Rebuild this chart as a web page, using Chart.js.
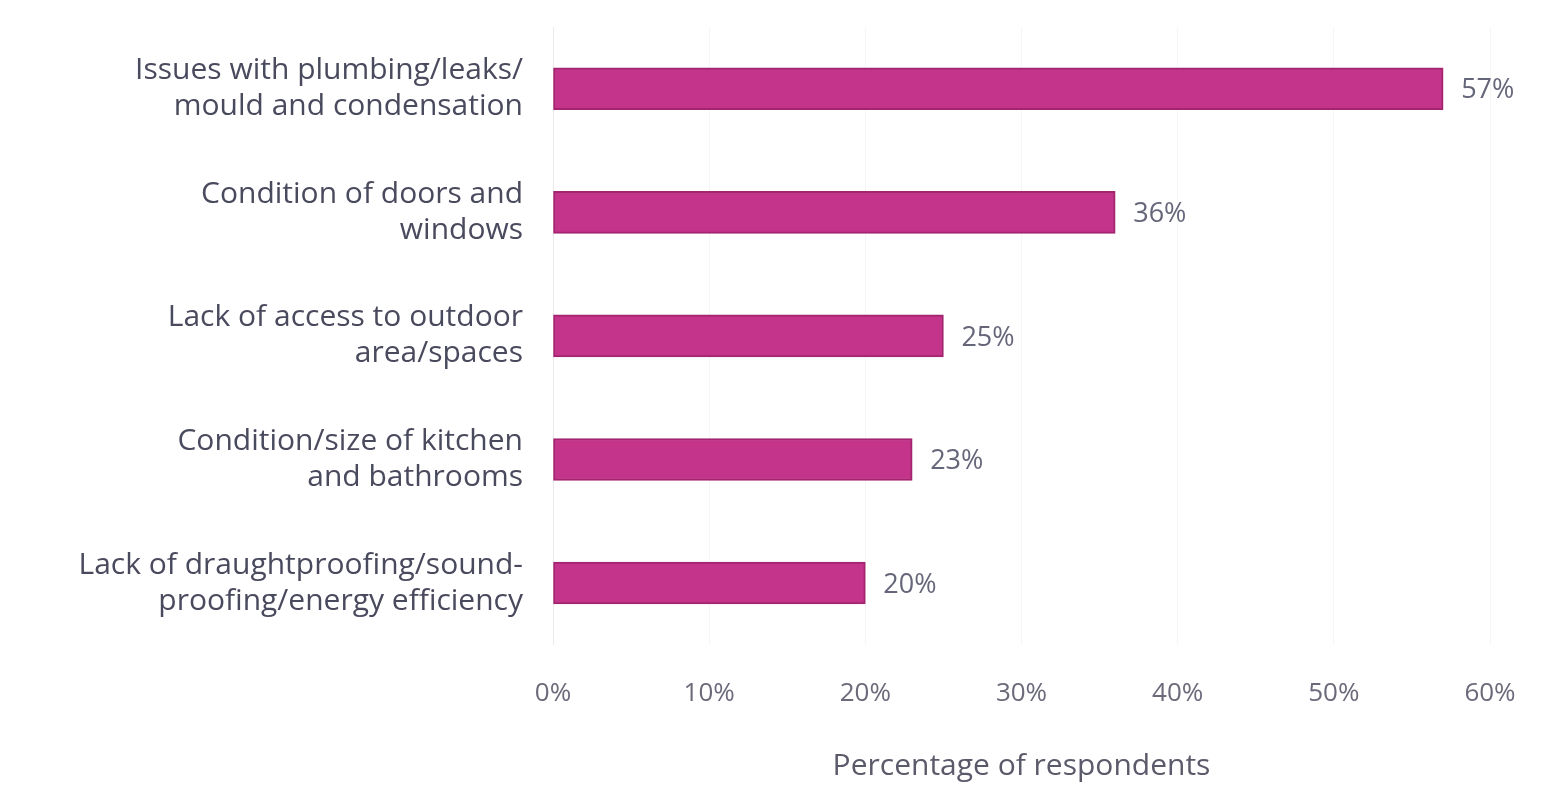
<!DOCTYPE html>
<html>
<head>
<meta charset="utf-8">
<script src="https://cdn.jsdelivr.net/npm/chart.js@4"></script>
<style>
  html, body { margin: 0; padding: 0; background: #fff; }
  #wrap { width: 1559px; height: 788px; }
</style>
</head>
<body>
<div id="wrap"><canvas id="issuesChart"></canvas></div>
<script>
const categories = [
    ['Issues with plumbing/leaks/', 'mould and condensation'],
    ['Condition of doors and', 'windows'],
    ['Lack of access to outdoor', 'area/spaces'],
    ['Condition/size of kitchen', 'and bathrooms'],
    ['Lack of draughtproofing/sound-', 'proofing/energy efficiency']
];
const percentages = [57, 36, 25, 23, 20];
const xTicks = [0, 10, 20, 30, 40, 50, 60];

// value label to the right of each bar
const barLabels = {
    id: 'barLabels',
    afterDatasetsDraw(chart) {
        const ctx = chart.ctx;
        const meta = chart.getDatasetMeta(0);
        ctx.save();
        ctx.font = '27px "Open Sans"';
        ctx.fillStyle = '#66667a';
        ctx.textBaseline = 'middle';
        meta.data.forEach((bar, i) => {
            ctx.fillText(percentages[i] + '%', bar.x + 18, bar.y + 2);
        });
        ctx.restore();
    }
};

const ctx = document.getElementById('issuesChart').getContext('2d');
new Chart(ctx, {
    type: 'bar',
    data: {
        labels: categories,
        datasets: [{
            data: percentages,
            backgroundColor: '#c4348a',
            borderColor: '#a3246f',
            borderWidth: 2,
            borderSkipped: false,
            barThickness: 42
        }]
    },
    options: {
        indexAxis: 'y',
        responsive: true,
        maintainAspectRatio: false,
        animation: false,
        layout: { padding: { top: 27, right: 69, bottom: 0, left: 0 } },
        plugins: {
            legend: { display: false },
            tooltip: { enabled: false }
        },
        scales: {
            x: {
                min: 0,
                max: 60,
                afterBuildTicks: axis => { axis.ticks = xTicks.map(v => ({ value: v })); },
                ticks: {
                    callback: v => v + '%',
                    color: '#6a6a7a',
                    font: { family: 'Open Sans', size: 26 },
                    padding: 33
                },
                grid: { color: 'rgba(0,0,0,0.035)', drawTicks: false },
                border: { display: false },
                title: {
                    display: true,
                    text: 'Percentage of respondents',
                    color: '#5a5a6a',
                    font: { family: 'Open Sans', size: 30 },
                    padding: { top: 6 }
                }
            },
            y: {
                afterFit: axis => {
                    axis.width = 553;
                    // labels sit inside their bands, so no overhang room is needed
                    axis.paddingTop = 0;
                    axis.paddingBottom = 0;
                },
                ticks: {
                    color: '#4a4a5e',
                    font: { family: 'Open Sans', size: 30, lineHeight: 1.2 },
                    padding: 22
                },
                grid: { display: false },
                border: { color: 'rgba(0,0,0,0.05)' }
            }
        }
    },
    plugins: [barLabels]
});
</script>
</body>
</html>
